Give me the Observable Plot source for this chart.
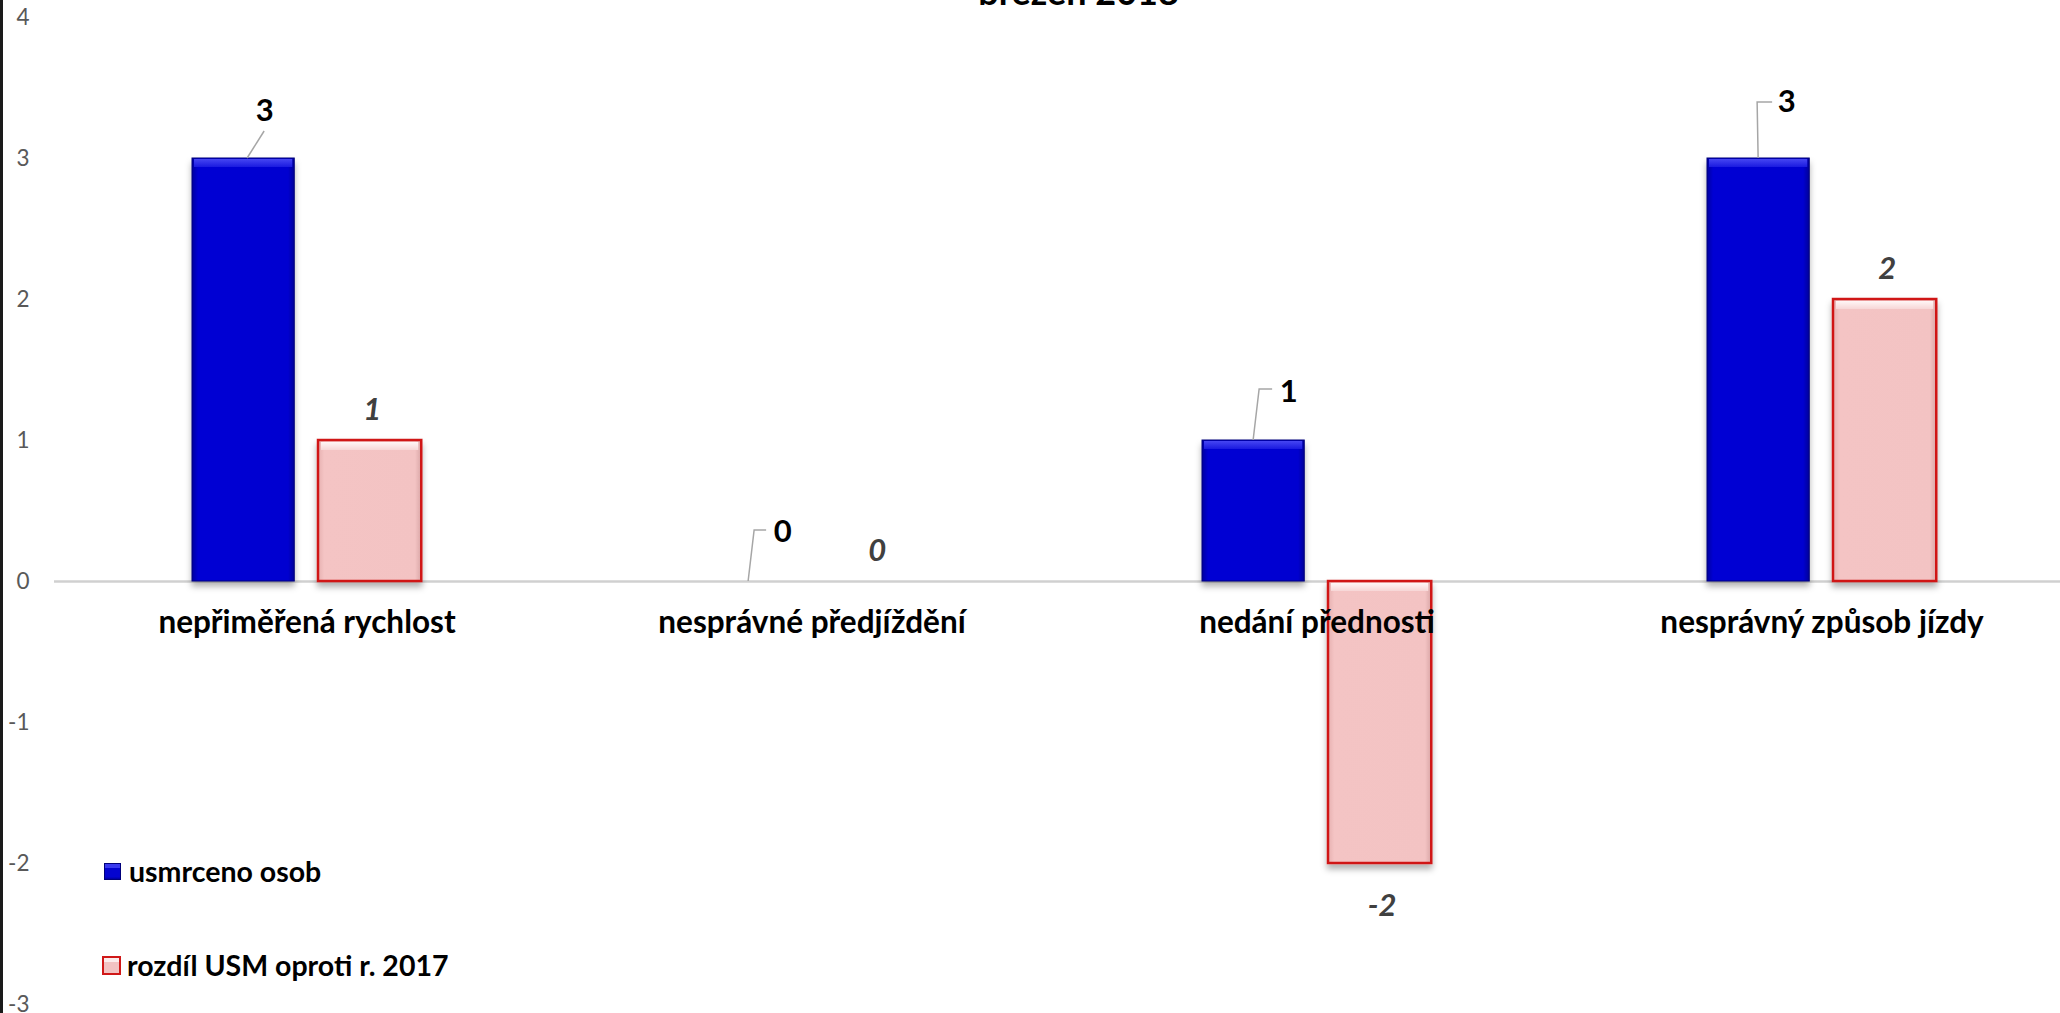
<!DOCTYPE html>
<html><head><meta charset="utf-8">
<script src="https://cdn.jsdelivr.net/npm/d3@7"></script>
<script src="https://cdn.jsdelivr.net/npm/@observablehq/plot@0.6"></script>
<style>
html,body{margin:0;padding:0;background:#fff;overflow:hidden;}
#wrap{position:relative;width:2060px;height:1013px;overflow:hidden;}
#chart svg{display:block;}
.frame-left{position:absolute;left:0px;top:0;width:3px;height:1013px;background:#1a1a1a;}
.legend{position:absolute;left:102px;height:34px;line-height:34px;font-family:Lato,"Open Sans",sans-serif;font-weight:700;font-size:28.5px;color:#000;display:flex;align-items:center;white-space:nowrap;}
.sw{width:17px;height:17px;margin-right:8px;box-sizing:border-box;}
.sw.blue{background:linear-gradient(#3a3aee 0,#3a3aee 25%,#0404d0 30%,#0404d0 85%,#0000a0 100%);border:1px solid #00007a;}
.sw.pink{background:linear-gradient(#fbecec 0,#fbecec 25%,#f2c2c2 30%,#f2c2c2 100%);border:2px solid #d01818;width:19px;height:19px;}
</style></head><body>
<svg width="0" height="0" style="position:absolute">
  <defs>
    <linearGradient id="blueGrad" x1="0" y1="0" x2="1" y2="0">
      <stop offset="0" stop-color="#0000a0"/>
      <stop offset="0.06" stop-color="#0606d4"/>
      <stop offset="0.94" stop-color="#0404d0"/>
      <stop offset="1" stop-color="#00009a"/>
    </linearGradient>
    <linearGradient id="pinkGrad" x1="0" y1="0" x2="1" y2="0">
      <stop offset="0" stop-color="#e6b0b0"/>
      <stop offset="0.06" stop-color="#f4c4c4"/>
      <stop offset="0.94" stop-color="#f3c3c3"/>
      <stop offset="1" stop-color="#d9a6a6"/>
    </linearGradient>
    <linearGradient id="blueTop" x1="0" y1="0" x2="0" y2="1">
      <stop offset="0" stop-color="#4646f2"/>
      <stop offset="1" stop-color="#1a1ae0"/>
    </linearGradient>
    <linearGradient id="pinkTop" x1="0" y1="0" x2="0" y2="1">
      <stop offset="0" stop-color="#fff6f6"/>
      <stop offset="1" stop-color="#f7d6d6"/>
    </linearGradient>
    <filter id="shadow" x="-20%" y="-20%" width="140%" height="140%">
      <feDropShadow dx="0" dy="5" stdDeviation="3" flood-color="#000" flood-opacity="0.3"/>
    </filter>
  </defs>
</svg>
<div id="wrap"><div id="chart"></div><div class="frame-left"></div></div>
<script>
// ---- data ----
const categories = ["nepřiměřená rychlost", "nesprávné předjíždění", "nedání přednosti", "nesprávný způsob jízdy"];
const killed = [3, 0, 1, 3];
const diff2017 = [1, 0, -2, 2];
const seriesNames = ["usmrceno osob", "rozdíl USM oproti r. 2017"];
const yTicks = [4, 3, 2, 1, 0, -1, -2, -3];
const titleText = "březen 2018";

const killedRows = categories.map((c, i) => ({category: c, value: killed[i]}));
const diffRows = categories.map((c, i) => ({category: c, value: diff2017[i]}));

// ---- layout / style constants ----
const W = 2060, H = 1013;
const X_RANGE = [52, 2075];
const BAND = (X_RANGE[1] - X_RANGE[0]) / categories.length;
const BLUE_L = 138, BLUE_R = 241, PINK_L = 264, PINK_R = 368;
const BLUE_SHIFT = (BLUE_L + BLUE_R) / 2 - BAND / 2;
const PINK_SHIFT = (PINK_L + PINK_R) / 2 - BAND / 2;
const FONT = "Lato, 'Open Sans', sans-serif";
// manual label placement (pixel offsets from the top of each blue bar)
const blueLabelStyle = [
  {label: [21, -47], path: [[4, 0], [21, -27]]},
  {label: [34, -49], path: [[0, 0], [6, -51], [18, -51]]},
  {label: [35, -48], path: [[0, 0], [6, -51], [19, -51]]},
  {label: [28, -56], path: [[0, 0], [-1, -56], [14, -56]]}
];

const nz = d => d.value !== 0;
const topY = d => Math.max(d.value, 0);

const chart = Plot.plot({
  width: W,
  height: H,
  margin: 0,
  style: {background: "white", fontFamily: FONT},
  x: {domain: categories, range: X_RANGE, padding: 0, axis: null},
  y: {domain: [-3, 4], range: [1004, 17], axis: null},
  marks: [
    Plot.ruleY([0], {stroke: "#d0d0d0", strokeWidth: 2.5, insetLeft: 54}),
    // main bars
    Plot.barY(killedRows.filter(nz), {x: "category", y: "value", fill: "url(#blueGrad)", stroke: "#00007a", strokeWidth: 1,
      insetLeft: BLUE_L, insetRight: BAND - BLUE_R}),
    Plot.barY(diffRows.filter(nz), {x: "category", y: "value", fill: "url(#pinkGrad)", stroke: "#d01818", strokeWidth: 2.5,
      insetLeft: PINK_L, insetRight: BAND - PINK_R}),
    // bevel highlight on top edges
    Plot.barY(killedRows.filter(nz), {x: "category", y1: topY, y2: topY, fill: "url(#blueTop)",
      insetLeft: BLUE_L + 2, insetRight: BAND - BLUE_R + 2, insetTop: 1, insetBottom: -9}),
    Plot.barY(diffRows.filter(nz), {x: "category", y1: topY, y2: topY, fill: "url(#pinkTop)",
      insetLeft: PINK_L + 3, insetRight: BAND - PINK_R + 3, insetTop: 2, insetBottom: -10}),
    // y tick labels
    Plot.text(yTicks, {y: d => d, text: d => String(d), frameAnchor: "left", dx: 29, textAnchor: "end",
      fill: "#595959", fontSize: 22.5}),
    // category labels
    Plot.text(categories, {x: d => d, y: () => 0, text: d => d, dy: 41, fontWeight: 700, fontSize: 31.5, fill: "#000"}),
    // difference labels
    Plot.text(diffRows.filter(d => d.value >= 0), {x: "category", y: "value", text: d => String(d.value),
      dx: PINK_SHIFT + 2, dy: -30, fontStyle: "italic", fontWeight: 700, fontSize: 31, fill: "#404040"}),
    Plot.text(diffRows.filter(d => d.value < 0), {x: "category", y: "value", text: d => String(d.value),
      dx: PINK_SHIFT + 2, dy: 43, fontStyle: "italic", fontWeight: 700, fontSize: 31, fill: "#404040"}),
    // leader lines for killed labels
    (index, scales) => {
      const {x, y} = scales;
      const g = d3.create("svg:g").attr("fill", "none").attr("stroke", "#a6a6a6").attr("stroke-width", 1.5);
      categories.forEach((c, i) => {
        const x0 = x(c) + x.bandwidth() / 2 + BLUE_SHIFT;
        const y0 = y(killed[i]);
        g.append("path").attr("d", d3.line()(blueLabelStyle[i].path.map(([dx, dy]) => [x0 + dx, y0 + dy])));
      });
      return g.node();
    },
    // killed labels
    ...killedRows.map((row, i) => Plot.text([row], {x: "category", y: "value", text: d => String(d.value),
      dx: BLUE_SHIFT + blueLabelStyle[i].label[0], dy: blueLabelStyle[i].label[1],
      fontWeight: 700, fontSize: 31, fill: "#000"})),
    // title (cut off at the top edge, as in the source)
    Plot.text([titleText], {frameAnchor: "top-left", dx: 1078, dy: 4, lineAnchor: "bottom", textAnchor: "middle",
      fontWeight: 700, fontSize: 36, fill: "#000"})
  ]
});

chart.querySelectorAll('g[aria-label="bar"]').forEach((g, i) => { if (i < 2) g.setAttribute("filter", "url(#shadow)"); });
document.getElementById("chart").appendChild(chart);

// legend
const wrap = document.getElementById("wrap");
const legendRows = [{name: seriesNames[0], cls: "blue", top: 854}, {name: seriesNames[1], cls: "pink", top: 948}];
legendRows.forEach(r => {
  const div = document.createElement("div");
  div.className = "legend";
  div.style.top = r.top + "px";
  div.style.left = (r.cls === "pink" ? 102 : 104) + "px";
  const sw = document.createElement("span");
  sw.className = "sw " + r.cls;
  if (r.cls === "pink") sw.style.marginRight = "6px";
  div.appendChild(sw);
  div.appendChild(document.createTextNode(r.name));
  wrap.appendChild(div);
});
</script>
</body></html>
